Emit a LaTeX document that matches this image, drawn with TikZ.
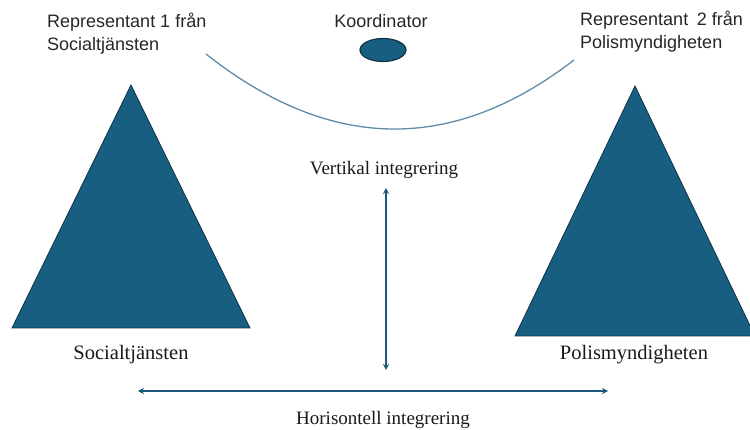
\documentclass[tikz,border=0pt]{standalone}
\usepackage{fontspec}
\setmainfont{Liberation Serif}
\setsansfont{Liberation Sans}
\usetikzlibrary{arrows.meta,shapes.geometric}
\definecolor{tri}{RGB}{24,94,128}
\definecolor{triedge}{RGB}{16,52,72}
\definecolor{arcc}{RGB}{96,140,168}
\definecolor{arr}{RGB}{28,88,125}
\tikzset{
  sanslabel/.style={font=\sffamily\fontsize{18}{23}\selectfont, align=left, inner sep=0pt, text=black!85},
  seriflabel/.style={font=\fontsize{19}{23}\selectfont, inner sep=0pt, text=black!90},
  bigserif/.style={font=\fontsize{20.5}{24}\selectfont, inner sep=0pt, text=black!90},
  pyramid/.style={fill=tri, draw=triedge, line width=0.8pt, line join=miter},
  twoarrow/.style={draw=arr, line width=2pt, {Stealth[length=6pt,width=6pt]}-{Stealth[length=6pt,width=6pt]}},
}
\begin{document}
\begin{tikzpicture}[x=1pt,y=-1pt]
\useasboundingbox (0,0) rectangle (750,430);
% top labels
\node[sanslabel, anchor=north west] (repL) at (47,13) {Representant 1 från\\Socialtjänsten};
\node[sanslabel, anchor=north west] (repR) at (580,11) {Representant\hspace{0.2em} 2 från\\Polismyndigheten};
\node[sanslabel, anchor=center] (koord) at (381,21) {Koordinator};
\node[ellipse, fill=tri, draw=triedge, line width=1.2pt, minimum width=46pt, minimum height=23pt, inner sep=0pt] (koordell) at (383,50) {};
% arc
\coordinate (arcL) at (206,54);
\coordinate (arcR) at (574,60);
\draw[arcc, line width=1.3pt] (arcL) .. controls (330,152) and (452,154) .. (arcR);
% triangles
\coordinate (tLa) at (12,328);
\coordinate (tLb) at (131,85);
\coordinate (tLc) at (250,328);
\draw[pyramid] (tLa) -- (tLb) -- (tLc) -- cycle;
\coordinate (tRa) at (515,336);
\coordinate (tRb) at (635,86);
\coordinate (tRc) at (755,336);
\draw[pyramid] (tRa) -- (tRb) -- (tRc) -- cycle;
% labels under triangles
\node[bigserif] (soc) at (131,355) {Socialtjänsten};
\node[bigserif] (pol) at (634,355) {Polismyndigheten};
% vertical integration
\node[seriflabel] (vert) at (384,170) {Vertikal integrering};
\coordinate (vTop) at (386,188);
\coordinate (vBot) at (386,370);
\draw[twoarrow] (vTop) -- (vBot);
% horizontal integration
\coordinate (hL) at (138,391);
\coordinate (hR) at (608,391);
\draw[twoarrow] (hL) -- (hR);
\node[seriflabel] (hor) at (383,420) {Horisontell integrering};
\end{tikzpicture}
\end{document}
